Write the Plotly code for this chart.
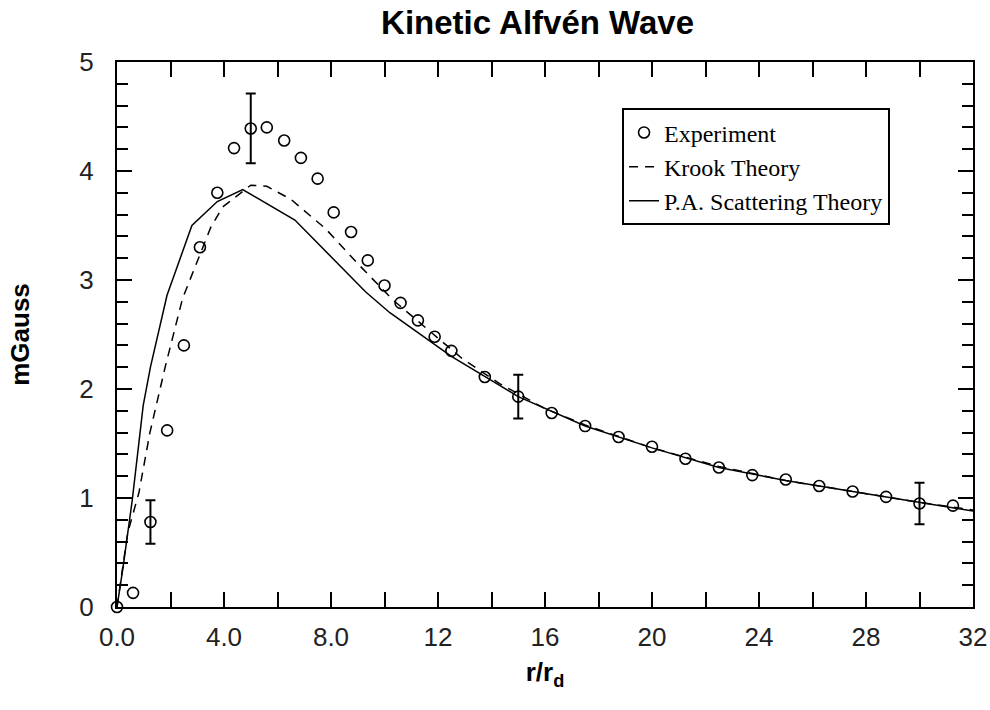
import plotly.graph_objects as go

# Experiment data
exp_x = [0, 0.6, 1.25, 1.875, 2.5, 3.1, 3.75, 4.375, 5.0, 5.6, 6.25, 6.875, 7.5, 8.1,
         8.75, 9.375, 10.0, 10.6, 11.25, 11.875, 12.5, 13.75, 15.0, 16.25, 17.5, 18.75,
         20.0, 21.25, 22.5, 23.75, 25.0, 26.25, 27.5, 28.75, 30.0, 31.25]
exp_y = [0, 0.13, 0.78, 1.62, 2.40, 3.30, 3.80, 4.21, 4.39, 4.40, 4.28, 4.12, 3.93, 3.62,
         3.44, 3.18, 2.95, 2.79, 2.63, 2.48, 2.35, 2.11, 1.93, 1.78, 1.66, 1.56,
         1.47, 1.36, 1.28, 1.21, 1.17, 1.11, 1.06, 1.01, 0.95, 0.93]

# Error bars on selected experiment points
err_x = [1.25, 5.0, 15.0, 30.0]
err_y = [0.78, 4.39, 1.93, 0.95]
err_val = [0.20, 0.32, 0.20, 0.19]

# Krook theory (dashed)
krook_x = [0, 0.4, 0.82, 1.23, 1.8, 2.45, 3.5, 3.95, 5.0, 5.6, 6.5, 7.8, 9.0, 10.3,
           12.9, 14.3, 16.0, 17.5, 20.0, 22.5, 25.0, 27.5, 30.0, 32.0]
krook_y = [0, 0.68, 1.05, 1.60, 2.20, 2.83, 3.48, 3.67, 3.87, 3.86, 3.74, 3.47, 3.15, 2.82,
           2.28, 2.05, 1.82, 1.67, 1.46, 1.29, 1.16, 1.06, 0.96, 0.89]

# P.A. scattering theory (solid)
pa_x = [0, 0.23, 0.57, 0.98, 1.25, 1.87, 2.8, 3.75, 4.7, 6.65, 9.3, 10.2, 12.5, 15.0,
        17.5, 20.0, 22.5, 25.0, 27.5, 30.0, 32.0]
pa_y = [0, 0.37, 0.98, 1.85, 2.20, 2.86, 3.50, 3.72, 3.83, 3.55, 2.89, 2.70, 2.30, 1.93,
        1.66, 1.46, 1.28, 1.16, 1.06, 0.96, 0.88]

x_tickvals = [0, 4, 8, 12, 16, 20, 24, 28, 32]
x_ticktext = ["0.0", "4.0", "8.0", "12", "16", "20", "24", "28", "32"]
y_tickvals = [0, 1, 2, 3, 4, 5]
y_ticktext = ["0", "1", "2", "3", "4", "5"]

fig = go.Figure()

fig.add_trace(go.Scatter(
    x=exp_x, y=exp_y, mode="markers", name="Experiment",
    marker=dict(symbol="circle-open", size=11, color="black", line=dict(width=1.6, color="black")),
    cliponaxis=False,
))
fig.add_trace(go.Scatter(
    x=err_x, y=err_y, mode="markers", showlegend=False, hoverinfo="skip",
    marker=dict(size=1, color="rgba(0,0,0,0)"),
    error_y=dict(type="data", array=err_val, visible=True, color="black", thickness=2, width=5),
    cliponaxis=False,
))
fig.add_trace(go.Scatter(
    x=krook_x, y=krook_y, mode="lines", name="Krook Theory",
    line=dict(color="black", width=1.5, dash="9px,7px"),
))
fig.add_trace(go.Scatter(
    x=pa_x, y=pa_y, mode="lines", name="P.A. Scattering Theory",
    line=dict(color="black", width=1.5),
))

axis_common = dict(
    showline=True, linecolor="black", linewidth=2, mirror="allticks",
    ticks="inside", tickcolor="black", tickwidth=2,
    showgrid=False, zeroline=False, automargin=False,
    tickfont=dict(family="Liberation Sans", size=26, color="#222"),
)

fig.update_xaxes(
    range=[0, 32], tickmode="array", tickvals=x_tickvals, ticktext=x_ticktext,
    ticklen=15, ticklabelstandoff=6,
    minor=dict(tickmode="linear", tick0=0, dtick=2, ticklen=15, tickwidth=2,
               tickcolor="black", ticks="inside"),
    title=dict(text="<b>r/r<sub>d</sub></b>", font=dict(family="Liberation Sans", size=26, color="black"),
               standoff=12),
    **axis_common,
)
fig.update_yaxes(
    range=[0, 5], tickmode="array", tickvals=y_tickvals, ticktext=y_ticktext,
    ticklen=15, ticklabelstandoff=16,
    minor=dict(tickmode="linear", tick0=0, dtick=0.2, ticklen=11, tickwidth=2,
               tickcolor="black", ticks="inside"),
    title=dict(text="<b>mGauss</b>", font=dict(family="Liberation Sans", size=26, color="black"),
               standoff=42),
    **axis_common,
)

fig.update_layout(
    width=990, height=710,
    margin=dict(l=117, r=17, t=62, b=103),
    paper_bgcolor="white", plot_bgcolor="white",
    title=dict(text="<b>Kinetic Alfvén Wave</b>", x=0.543, xanchor="center",
               y=0.969, yanchor="middle", automargin=False,
               font=dict(family="Liberation Sans", size=33, color="black")),
    legend=dict(x=0.59, y=0.915, xanchor="left", yanchor="top",
                bordercolor="black", borderwidth=2, bgcolor="white",
                font=dict(family="Liberation Serif", size=24, color="black"),
                tracegroupgap=0),
    showlegend=True,
)

fig.write_html("out.html", config={"displayModeBar": False},
               post_script="document.body.style.margin='0';")
